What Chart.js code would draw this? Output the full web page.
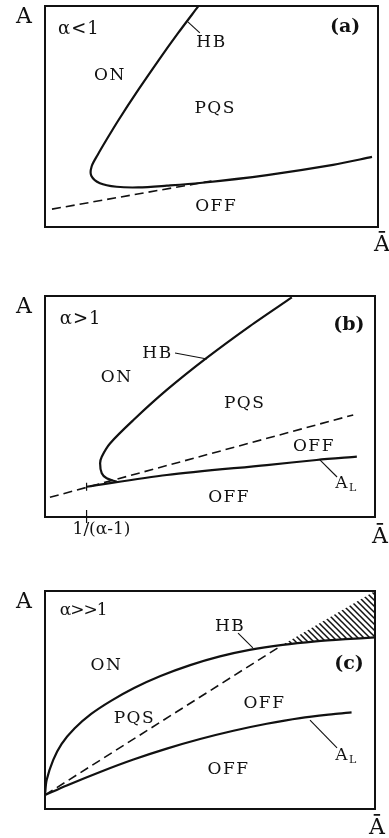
<!DOCTYPE html>
<html>
<head>
<meta charset="utf-8">
<script src="https://cdn.jsdelivr.net/npm/chart.js@4.4.1/dist/chart.umd.min.js"></script>
<style>
  html, body { margin: 0; padding: 0; background: #fff; }
  body { width: 389px; height: 838px; position: relative; overflow: hidden; }
  canvas { position: absolute; left: 0; }
</style>
</head>
<body>
<canvas id="panelA" width="389" height="262" style="top:0"></canvas>
<canvas id="panelB" width="389" height="288" style="top:262px"></canvas>
<canvas id="panelC" width="389" height="288" style="top:550px"></canvas>
<script>
// ---- (a) alpha < 1 ----
const hbA = [
  {x:46.0,y:99.8},{x:40.0,y:87.8},{x:34.0,y:75.2},{x:28.0,y:62.0},{x:22.0,y:48.2},
  {x:18.6,y:39.8},{x:15.8,y:32.6},{x:14.0,y:27.4},{x:13.9,y:23.2},{x:16.5,y:19.8},
  {x:21.5,y:18.2},{x:28.0,y:17.9},{x:36.6,y:18.7},{x:46.5,y:19.9},{x:66.7,y:23.5},
  {x:86.5,y:28.1},{x:98.2,y:31.7}
];
const offA = [{x:2.1,y:8.1},{x:50.0,y:20.8}];
const labelsA = [
  {t:'α<1', x:3.9, y:89.6, align:'left', size:18, spacing:1},
  {t:'(a)', x:90.1, y:90.5, size:19, bold:true, spacing:0},
  {t:'HB', x:50.0, y:83.5},
  {t:'ON', x:19.5, y:68.3},
  {t:'PQS', x:51.1, y:53.6},
  {t:'OFF', x:51.4, y:9.3}
];
const leadersA = [[[42.9,92.8],[46.5,87.8]]];

// ---- (b) alpha > 1 ----
const hbB = [
  {x:74.8,y:99.4},{x:62.1,y:86.4},{x:49.0,y:72.0},{x:36.9,y:57.5},{x:26.8,y:43.9},
  {x:19.7,y:33.3},{x:17.2,y:27.3},{x:16.7,y:24.3},{x:17.2,y:19.8},{x:18.7,y:17.5},
  {x:21.7,y:16.0}
];
const alB = [{x:12.6,y:13.7},{x:36.9,y:19.0},{x:67.2,y:23.5},{x:82.3,y:25.8},{x:94.5,y:27.3}];
const offB = [{x:1.5,y:8.9},{x:93.4,y:46.2}];
const thresholdB = 12.6;   // 1/(alpha-1)
const labelsB = [
  {t:'α>1', x:4.5, y:89.6, align:'left', size:18, spacing:1},
  {t:'(b)', x:92.1, y:86.7, size:19, bold:true, spacing:0},
  {t:'HB', x:34.1, y:73.8},
  {t:'ON', x:21.7, y:63.1},
  {t:'PQS', x:60.5, y:51.4},
  {t:'OFF', x:81.5, y:31.9},
  {t:'A', sub:'L', x:91.4, y:15.2},
  {t:'OFF', x:55.8, y:8.8}
];
const leadersB = [[[39.4,74.2],[49.1,71.5]], [[83.3,25.8],[88.5,18.1]]];

// ---- (c) alpha >> 1 ----
const hbC = [
  {x:0,y:6.4},{x:0.5,y:13.3},{x:2.5,y:22.5},{x:5,y:29.8},{x:9,y:37.0},
  {x:14,y:43.6},{x:20,y:49.6},{x:27,y:55.5},{x:35,y:61.0},{x:44,y:66.0},
  {x:53,y:70.0},{x:62,y:73.0},{x:72,y:75.3},{x:82,y:76.9},{x:91,y:77.9},
  {x:100,y:78.7}
];
const alC = [
  {x:0,y:6.4},{x:6.6,y:10.8},{x:16.7,y:17.0},{x:26.8,y:22.7},{x:36.9,y:27.7},
  {x:47.0,y:32.1},{x:57.1,y:35.9},{x:67.2,y:39.1},{x:77.3,y:41.7},{x:87.4,y:43.5},
  {x:92.9,y:44.3}
];
const offC = [{x:0,y:6.4},{x:72.0,y:75.3}];
const ridgeC = [{x:72.0,y:75.3},{x:100,y:100}];
const labelsC = [
  {t:'α>>1', x:4.5, y:90.8, align:'left', size:17, spacing:-1},
  {t:'HB', x:56.1, y:83.9},
  {t:'(c)', x:92.1, y:66.7, size:19, bold:true, spacing:0},
  {t:'ON', x:18.6, y:65.6},
  {t:'PQS', x:27.1, y:41.3},
  {t:'OFF', x:66.5, y:48.4},
  {t:'A', sub:'L', x:91.4, y:24.5},
  {t:'OFF', x:55.6, y:17.9}
];
const leadersC = [[[58.5,80.7],[63.0,73.9]], [[80.3,40.8],[88.5,28.0]]];

const INK = '#111';
const SERIF = '"DejaVu Serif", "Liberation Serif", serif';

Chart.defaults.animation = false;

function hatchPattern() {
  const c = document.createElement('canvas');
  c.width = c.height = 6;
  const g = c.getContext('2d');
  g.strokeStyle = INK;
  g.lineWidth = 1.5;
  g.beginPath();
  g.moveTo(-1, -1); g.lineTo(7, 7);
  g.moveTo(-1, 5); g.lineTo(1, 7);
  g.moveTo(5, -1); g.lineTo(7, 1);
  g.stroke();
  return g.createPattern(c, 'repeat');
}

function solid(data) {
  return { data, borderColor: INK, borderWidth: 2.2, tension: 0.3, pointRadius: 0, showLine: true, fill: false };
}
function dashed(data) {
  return { data, borderColor: INK, borderWidth: 1.6, borderDash: [9, 5], pointRadius: 0, showLine: true, fill: false };
}

function drawLabel(ctx, item, x, y) {
  const px = x.getPixelForValue(item.x);
  const py = y.getPixelForValue(item.y);
  const size = item.size || 17;
  ctx.font = (item.bold ? 'bold ' : '') + size + 'px ' + SERIF;
  ctx.letterSpacing = (item.spacing ?? 1.5) + 'px';
  ctx.textBaseline = 'middle';
  if (item.sub) {
    const w = ctx.measureText(item.t).width;
    ctx.font = '11px ' + SERIF;
    const ws = ctx.measureText(item.sub).width;
    const start = px - (w + ws) / 2;
    ctx.textAlign = 'left';
    ctx.fillText(item.sub, start + w, py + 5);
    ctx.font = size + 'px ' + SERIF;
    ctx.fillText(item.t, start, py);
    return;
  }
  ctx.textAlign = item.align || 'center';
  ctx.fillText(item.t, px, py);
}

// frame, axis names, region names and leader lines
const decor = {
  id: 'decor',
  afterDraw(chart, args, opts) {
    const { ctx, chartArea: a, scales: { x, y } } = chart;
    ctx.save();
    ctx.strokeStyle = INK;
    ctx.fillStyle = INK;
    ctx.lineWidth = 2;
    ctx.strokeRect(a.left, a.top, a.right - a.left, a.bottom - a.top);

    ctx.lineWidth = 1.1;
    (opts.leaders || []).forEach(([p, q]) => {
      ctx.beginPath();
      ctx.moveTo(x.getPixelForValue(p[0]), y.getPixelForValue(p[1]));
      ctx.lineTo(x.getPixelForValue(q[0]), y.getPixelForValue(q[1]));
      ctx.stroke();
    });

    if (opts.tick != null) {
      const tx = x.getPixelForValue(opts.tick);
      ctx.lineWidth = 1.2;
      ctx.beginPath();
      ctx.moveTo(tx, a.bottom - 7); ctx.lineTo(tx, a.bottom + 6);
      const cy = y.getPixelForValue(opts.tickOn);
      ctx.moveTo(tx, cy - 4); ctx.lineTo(tx, cy + 4);
      ctx.stroke();
      ctx.font = '17px ' + SERIF;
      ctx.letterSpacing = '0px';
      ctx.textAlign = 'left';
      ctx.textBaseline = 'middle';
      ctx.fillText('1/(α-1)', tx - 14, a.bottom + 13);
    }

    (opts.labels || []).forEach(item => drawLabel(ctx, item, x, y));

    ctx.font = '22px ' + SERIF;
    ctx.letterSpacing = '0px';
    ctx.textAlign = 'center';
    ctx.textBaseline = 'middle';
    ctx.fillText('A', a.left - 21, a.top + 11);
    ctx.fillText('Ā', a.right + opts.abar[0], a.bottom + opts.abar[1]);
    ctx.restore();
  }
};

function makePanel(id, datasets, pad, decorOpts) {
  new Chart(document.getElementById(id), {
    type: 'scatter',
    data: { datasets },
    options: {
      responsive: false,
      layout: { padding: pad },
      scales: {
        x: { type: 'linear', min: 0, max: 100, display: false },
        y: { type: 'linear', min: 0, max: 100, display: false }
      },
      plugins: { legend: { display: false }, tooltip: { enabled: false }, decor: decorOpts }
    },
    plugins: [decor]
  });
}

makePanel('panelA', [solid(hbA), dashed(offA)],
  { left: 45, top: 6, right: 11, bottom: 35 },
  { labels: labelsA, leaders: leadersA, abar: [4, 18] });

makePanel('panelB', [solid(hbB), solid(alB), dashed(offB)],
  { left: 45, top: 34, right: 14, bottom: 33 },
  { labels: labelsB, leaders: leadersB, abar: [5, 20], tick: thresholdB, tickOn: alB[0].y });

// hatched band between the ridge line and the HB curve
const hatchShape = ridgeC.concat(hbC.filter(p => p.x > ridgeC[0].x).reverse());
makePanel('panelC', [
  { data: hatchShape, showLine: true, tension: 0, pointRadius: 0, borderWidth: 0,
    borderColor: 'rgba(0,0,0,0)', backgroundColor: hatchPattern(), fill: 'shape' },
  solid(hbC), solid(alC), dashed(offC)],
  { left: 45, top: 41, right: 14, bottom: 29 },
  { labels: labelsC, leaders: leadersC, abar: [2, 19] });
</script>
</body>
</html>
